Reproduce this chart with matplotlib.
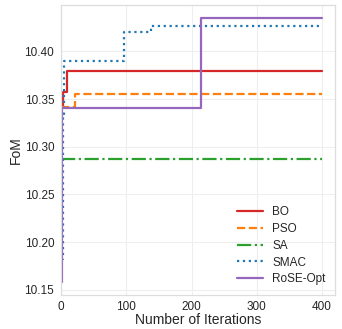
import matplotlib
matplotlib.use("Agg")
import matplotlib.pyplot as plt
import seaborn as sns

# change points (iteration, best FoM so far); each line held until last iteration
n_iter = 400

bo_x = [0, 3, 9]
bo_y = [10.343, 10.358, 10.380]

pso_x = [0, 21]
pso_y = [10.3415, 10.3555]

sa_x = [0]
sa_y = [10.2875]

smac_x = [0, 2, 5, 97, 138]
smac_y = [10.182, 10.334, 10.390, 10.4207, 10.4262]

rose_x = [0, 1, 215]
rose_y = [10.1586, 10.3405, 10.435]

labels = ["BO", "PSO", "SA", "SMAC", "RoSE-Opt"]
colors = ["#d62728", "#ff7f0e", "#2ca02c", "#1f77b4", "#9467bd"]
styles = ["-", "--", "-.", ":", "-"]

sns.set_style("whitegrid")
plt.rcParams["font.family"] = ["Liberation Sans", "DejaVu Sans"]

fig = plt.figure(figsize=(3.42, 3.29), dpi=100)
ax = fig.add_axes([0.179, 0.104, 0.801, 0.881])

series = [(bo_x, bo_y), (pso_x, pso_y), (sa_x, sa_y), (smac_x, smac_y), (rose_x, rose_y)]
for (xs, ys), lab, c, ls in zip(series, labels, colors, styles):
    xx = list(xs) + [n_iter]
    yy = list(ys) + [ys[-1]]
    ax.plot(xx, yy, drawstyle="steps-post", color=c, linestyle=ls, linewidth=1.6, label=lab)

ax.set_xlim(left=0)
ax.set_xticks([0, 100, 200, 300, 400])
ax.set_yticks([10.15, 10.20, 10.25, 10.30, 10.35, 10.40])
ax.grid(color="#eeeeee", linewidth=0.8)
for s in ax.spines.values():
    s.set_color("#dddddd")
    s.set_linewidth(0.9)
ax.set_xlabel("Number of Iterations", fontsize=10, labelpad=0, color="#262626")
ax.set_ylabel("FoM", fontsize=10, labelpad=1, color="#262626")
ax.tick_params(axis="y", labelsize=8.5, pad=1.5, labelcolor="#262626")
ax.tick_params(axis="x", labelsize=8.5, pad=1, labelcolor="#262626")
ax.legend(loc="lower right", fontsize=8.5, frameon=False, handlelength=2.2,
          handletextpad=0.8, labelspacing=0.4, borderaxespad=0.4, labelcolor="#262626")

fig.savefig("out.png", dpi=100)
